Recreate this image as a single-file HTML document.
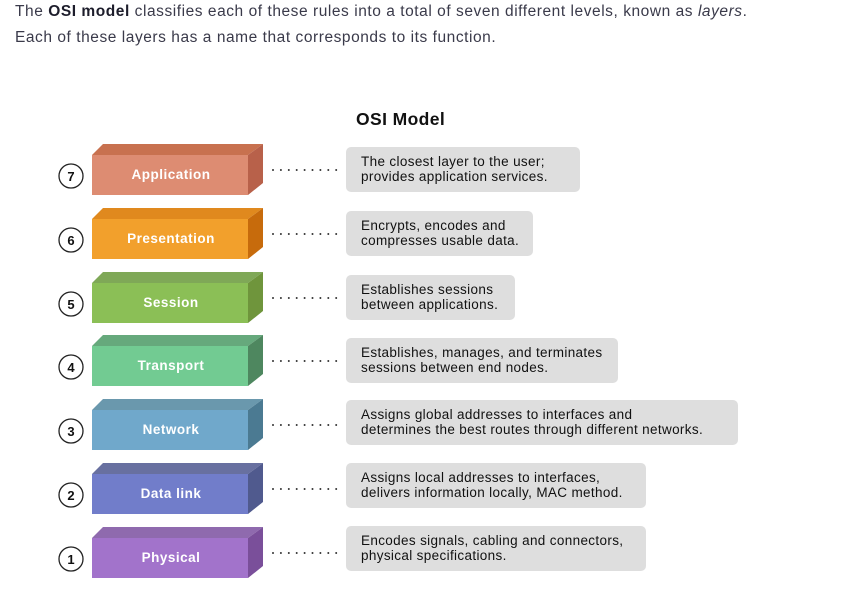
<!DOCTYPE html>
<html><head><meta charset="utf-8"><style>
html,body{margin:0;padding:0;background:#fff;width:856px;height:598px;overflow:hidden}
.p{position:absolute;left:15px;font-family:"Liberation Sans",sans-serif;font-size:15.5px;letter-spacing:0.55px;color:#3a3a4a;margin:0;white-space:nowrap}
</style></head><body>
<p class="p" style="top:3px">The <b style="color:#1d1d2b">OSI model</b> classifies each of these rules into a total of seven different levels, known as <i>layers</i>.</p>
<p class="p" style="top:29px">Each of these layers has a name that corresponds to its function.</p>
<svg width="856" height="598" style="position:absolute;left:0;top:0" font-family="Liberation Sans, sans-serif">
<text x="356" y="125" font-size="17.5" font-weight="bold" fill="#111" letter-spacing="0.4">OSI Model</text>
<g id="layers"></g>
</svg>
<script>
var L=[
["7","Application",174,"#dd8c72","#c8714f","#b8614a",147,234,"The closest layer to the user;","provides application services."],
["6","Presentation",238,"#f2a02c","#e0891e","#c76b0c",211,187,"Encrypts, encodes and","compresses usable data."],
["5","Session",302,"#8bbf56","#7fa857","#6f953c",275,169,"Establishes sessions","between applications."],
["4","Transport",365,"#72cb92","#66a97c","#4e875f",338,272,"Establishes, manages, and terminates","sessions between end nodes."],
["3","Network",429,"#70a8cb","#6a98ad","#4b7a92",400,392,"Assigns global addresses to interfaces and","determines the best routes through different networks."],
["2","Data link",493,"#717dca","#6870a0","#505a8e",463,300,"Assigns local addresses to interfaces,","delivers information locally, MAC method."],
["1","Physical",557,"#a273cb","#8f6aae","#7a4f9a",526,300,"Encodes signals, cabling and connectors,","physical specifications."]];
var s="";
L.forEach(function(l){var c=l[2],t=c-19,b=c+21;
s+='<polygon points="92,'+t+' 103,'+(t-11)+' 263,'+(t-11)+' 248,'+t+'" fill="'+l[4]+'"/>';
s+='<polygon points="248,'+t+' 263,'+(t-11)+' 263,'+(b-12)+' 248,'+b+'" fill="'+l[5]+'"/>';
s+='<rect x="92" y="'+t+'" width="156" height="'+(b-t)+'" fill="'+l[3]+'"/>';
s+='<text x="171" y="'+(c+5)+'" text-anchor="middle" font-size="13.5" letter-spacing="0.5" font-weight="bold" fill="#fff">'+l[1]+'</text>';
s+='<circle cx="71" cy="'+(c+2)+'" r="12" fill="#fff" stroke="#222" stroke-width="1.3"/>';
s+='<text x="71" y="'+(c+7)+'" text-anchor="middle" font-size="13" font-weight="bold" fill="#111">'+l[0]+'</text>';
for(var i=0;i<9;i++)s+='<circle cx="'+(273+i*7.9)+'" cy="'+(c-4)+'" r="1" fill="#333"/>';
s+='<rect x="346" y="'+l[6]+'" width="'+l[7]+'" height="45" rx="5" fill="#dedede"/>';
s+='<text x="361" y="'+(l[6]+19)+'" font-size="13.5" letter-spacing="0.35" fill="#111">'+l[8]+'</text>';
s+='<text x="361" y="'+(l[6]+34)+'" font-size="13.5" letter-spacing="0.35" fill="#111">'+l[9]+'</text>';});
document.getElementById("layers").innerHTML=s;
</script>
</body></html>
